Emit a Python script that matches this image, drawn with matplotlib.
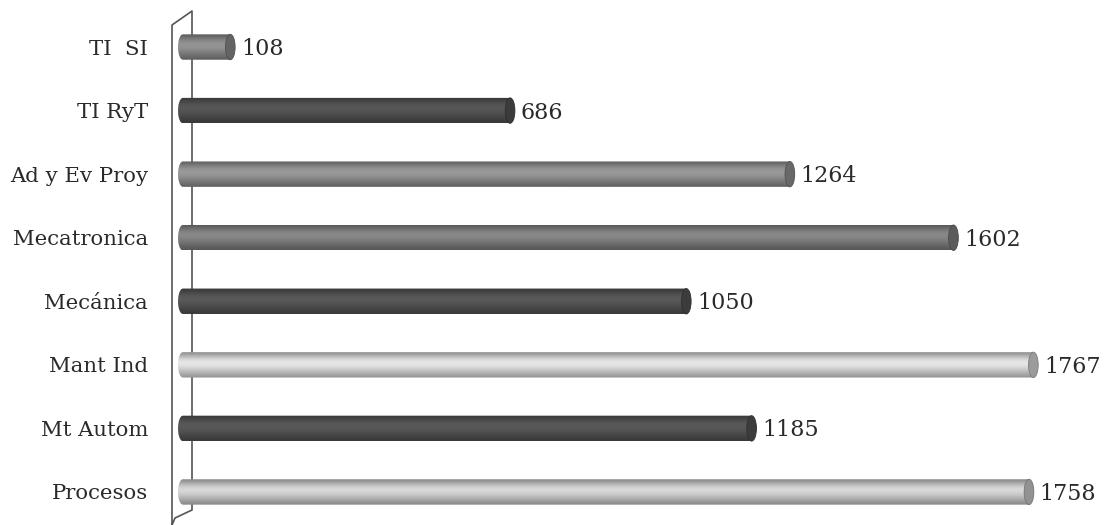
import numpy as np
import matplotlib
matplotlib.use('Agg')
import matplotlib.pyplot as plt
from matplotlib.path import Path
from matplotlib.patches import PathPatch, Ellipse

# datos del grafico
carreras = ['TI  SI', 'TI RyT', 'Ad y Ev Proy', 'Mecatronica', 'Mecánica',
            'Mant Ind', 'Mt Autom', 'Procesos']
alumnos = [108, 686, 1264, 1602, 1050, 1767, 1185, 1758]
colores = ['#858585', '#4e4e4e', '#8a8a8a', '#7a7a7a', '#505050',
           '#cfcfcf', '#505050', '#c2c2c2']

plt.rcParams['font.family'] = ['DejaVu Serif']

fig = plt.figure(figsize=(11.05, 5.25), dpi=100)

# pared 3D detras de las barras (coordenadas en pixeles)
fondo = fig.add_axes([0, 0, 1, 1])
fondo.set_xlim(0, 1105)
fondo.set_ylim(525, 0)
fondo.axis('off')
fondo.plot([172, 172, 192, 192, 175, 172], [525, 25, 11, 510, 518, 525],
           color='#555555', lw=1.2)

ax = fig.add_axes([178 / 1105, 0, 927 / 1105, 1])
ax.patch.set_alpha(0)
ax.set_xlim(0, 1915)
ax.set_ylim(7.52, -0.74)

alto = 0.40
cap = 20
y = np.arange(len(carreras))
perfil = np.array([0.72, 0.85, 0.98, 1.08, 1.12, 1.10, 1.04, 0.96, 0.88, 0.80, 0.72])

for yi, val, col in zip(y, alumnos, colores):
    base = np.array(matplotlib.colors.to_rgb(col))
    grad = np.clip(base[None, :] * perfil[:, None], 0, 1)[:, None, :]
    top, bot = yi - alto / 2, yi + alto / 2
    t = np.linspace(np.pi / 2, 3 * np.pi / 2, 20)
    arc = np.column_stack([cap / 2 * np.cos(t) + cap / 2, yi - alto / 2 * np.sin(t)])
    verts = np.vstack([[val, top], arc, [val, bot], [val, top]])
    codes = [Path.MOVETO] + [Path.LINETO] * (len(verts) - 2) + [Path.CLOSEPOLY]
    pp = PathPatch(Path(verts, codes), facecolor='none', edgecolor='none')
    ax.add_patch(pp)
    im = ax.imshow(grad, extent=(0, val, bot, top), aspect='auto',
                   interpolation='bicubic', zorder=2)
    im.set_clip_path(pp)
    ax.add_patch(Ellipse((val, yi), cap, alto, facecolor=base * 0.75,
                         edgecolor=base * 0.6, lw=0.6, zorder=3))
    ax.text(val + cap / 2 + 12, yi + 0.03, str(val), va='center', ha='left',
            fontsize=16, color='#2a2a2a')

ax.set_yticks(y)
ax.set_yticklabels(carreras, fontsize=15.3, color='#2a2a2a')
ax.tick_params(axis='y', length=0, pad=21.6)
ax.set_xticks([])
for s in ax.spines.values():
    s.set_visible(False)

fig.savefig('out.png', dpi=100)
